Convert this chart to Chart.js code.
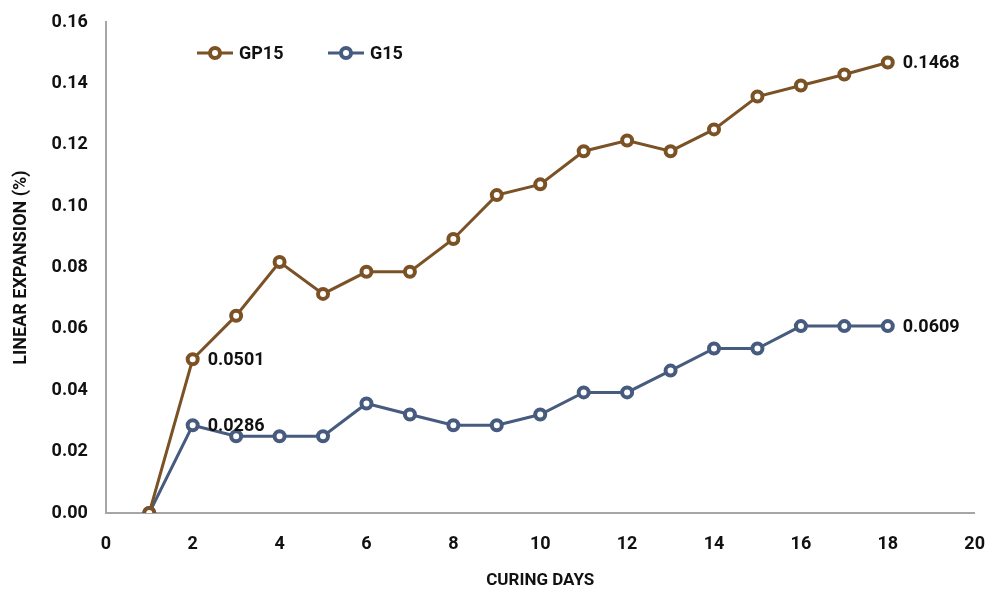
<!DOCTYPE html>
<html>
<head>
<meta charset="utf-8">
<script src="https://cdn.jsdelivr.net/npm/chart.js@4.4.1/dist/chart.umd.min.js"></script>
<style>
  html, body { margin: 0; padding: 0; background: #fff; }
  #wrap { width: 987px; height: 592px; }
</style>
</head>
<body>
<div id="wrap"><canvas id="expChart" width="987" height="592"></canvas></div>
<script>
// curing days and linear expansion (%)
const days = [1, 2, 3, 4, 5, 6, 7, 8, 9, 10, 11, 12, 13, 14, 15, 16, 17, 18];
const gp15 = [0, 0.0501, 0.0643, 0.0818, 0.0714, 0.0786, 0.0786, 0.0893, 0.1036, 0.1071,
              0.1179, 0.1214, 0.1179, 0.125, 0.1357, 0.1393, 0.1429, 0.1468];
const g15 = [0, 0.0286, 0.025, 0.025, 0.025, 0.0357, 0.0321, 0.0286, 0.0286, 0.0321,
             0.0393, 0.0393, 0.0464, 0.0536, 0.0536, 0.0609, 0.0609, 0.0609];
const labeledDays = [2, 18];
const seriesNames = ['GP15', 'G15'];
const xTicks = [0, 2, 4, 6, 8, 10, 12, 14, 16, 18, 20];
const yTicks = [0, 0.02, 0.04, 0.06, 0.08, 0.10, 0.12, 0.14, 0.16];

const colors = ['#7B5226', '#475B7E'];
const fontFam = 'Roboto, "Liberation Sans", sans-serif';

const toPoints = vals => days.map((d, i) => ({ x: d, y: vals[i] }));

function seriesStyle(i) {
    return {
        borderColor: colors[i],
        backgroundColor: '#ffffff',
        borderWidth: 3,
        pointRadius: 5,
        pointBorderWidth: 4,
        pointBackgroundColor: '#ffffff',
        pointBorderColor: colors[i],
        tension: 0
    };
}

// value labels next to selected points
const valueLabels = {
    id: 'valueLabels',
    afterDatasetsDraw(chart) {
        const ctx = chart.ctx;
        ctx.save();
        ctx.font = 'bold 18px ' + fontFam;
        ctx.fillStyle = '#111';
        ctx.textAlign = 'left';
        ctx.textBaseline = 'middle';
        chart.data.datasets.forEach((ds, i) => {
            const meta = chart.getDatasetMeta(i);
            labeledDays.forEach(d => {
                const j = days.indexOf(d);
                const pt = meta.data[j];
                ctx.fillText(ds.data[j].y.toFixed(4), pt.x + 15, pt.y + 1);
            });
        });
        ctx.restore();
    }
};

// legend drawn inside the plot area, line + ring marker + name
const lineLegend = {
    id: 'lineLegend',
    afterDraw(chart) {
        const ctx = chart.ctx;
        const y = 53;
        const starts = [197, 328];
        ctx.save();
        ctx.font = 'bold 18px ' + fontFam;
        ctx.textBaseline = 'middle';
        ctx.textAlign = 'left';
        seriesNames.forEach((name, i) => {
            const x0 = starts[i];
            ctx.strokeStyle = colors[i];
            ctx.lineWidth = 3;
            ctx.beginPath();
            ctx.moveTo(x0, y);
            ctx.lineTo(x0 + 36, y);
            ctx.stroke();
            ctx.beginPath();
            ctx.arc(x0 + 18, y, 5, 0, Math.PI * 2);
            ctx.fillStyle = '#fff';
            ctx.fill();
            ctx.lineWidth = 4;
            ctx.stroke();
            ctx.fillStyle = '#111';
            ctx.fillText(name, x0 + 42, y + 1);
        });
        ctx.restore();
    }
};

const ctx = document.getElementById('expChart').getContext('2d');
const expChart = new Chart(ctx, {
    type: 'line',
    data: {
        datasets: [
            Object.assign({ label: seriesNames[0], data: toPoints(gp15) }, seriesStyle(0)),
            Object.assign({ label: seriesNames[1], data: toPoints(g15) }, seriesStyle(1))
        ]
    },
    options: {
        responsive: false,
        animation: false,
        layout: { padding: { left: 0, right: 12, top: 22, bottom: 0 } },
        plugins: {
            legend: { display: false },
            tooltip: { enabled: false }
        },
        scales: {
            x: {
                type: 'linear',
                min: 0,
                max: 20,
                // grid hidden, tick length kept only as label offset
                grid: { display: false, drawTicks: true, tickLength: 19 },
                border: { display: true, color: '#a6a6a6', width: 2 },
                afterBuildTicks: axis => { axis.ticks = xTicks.map(v => ({ value: v })); },
                ticks: {
                    padding: 2,
                    color: '#111',
                    font: { family: fontFam, size: 18, weight: 'bold' },
                    callback: v => String(v)
                },
                title: {
                    display: true,
                    text: 'CURING DAYS',
                    color: '#111',
                    font: { family: fontFam, size: 17, weight: 'bold', lineHeight: 1.2 },
                    padding: { top: 13, bottom: 1 }
                }
            },
            y: {
                min: 0,
                max: 0.16,
                grid: { display: false, drawTicks: true, tickLength: 10 },
                border: { display: true, color: '#a6a6a6', width: 2 },
                afterBuildTicks: axis => { axis.ticks = yTicks.map(v => ({ value: v })); },
                ticks: {
                    padding: 8,
                    color: '#111',
                    font: { family: fontFam, size: 18, weight: 'bold' },
                    callback: v => Number(v).toFixed(2)
                },
                title: {
                    display: true,
                    text: 'LINEAR EXPANSION (%)',
                    color: '#111',
                    font: { family: fontFam, size: 18, weight: 'bold', lineHeight: 1.2 },
                    padding: { top: 11, bottom: 11 }
                }
            }
        }
    },
    plugins: [valueLabels, lineLegend]
});
</script>
</body>
</html>
